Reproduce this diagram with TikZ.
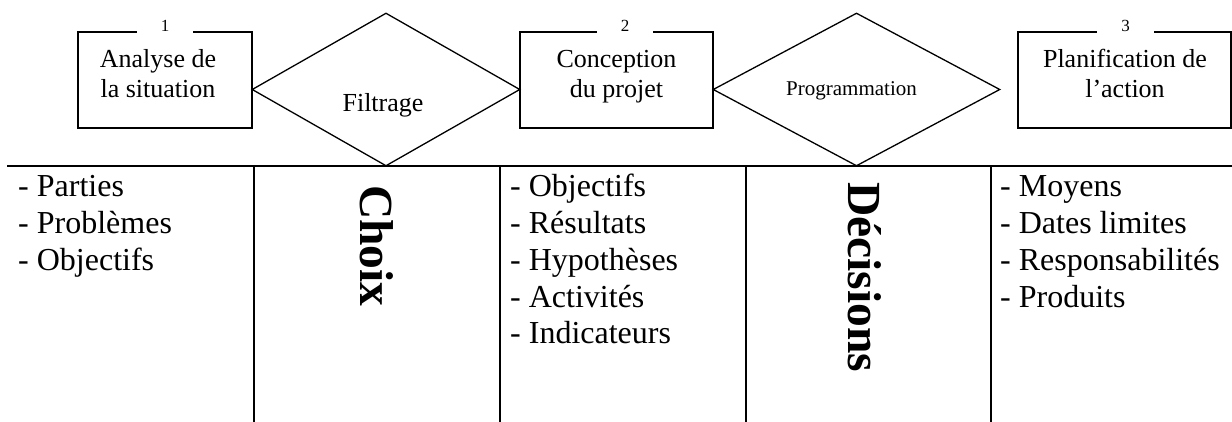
\documentclass[tikz,border=0pt]{standalone}
\usepackage{fontspec}
\setmainfont{Liberation Serif}
\usepackage{tikz}
\usetikzlibrary{shapes.geometric}

\begin{document}
\begin{tikzpicture}[x=1pt,y=-1pt]
\tikzstyle{every node}+=[inner sep=0pt]
\tikzstyle{stage}=[draw=black, line width=1.3pt, minimum height=96pt]
\tikzstyle{stagetext}=[align=center, anchor=base, font=\fontsize{26}{30}\selectfont]
\tikzstyle{tag}=[fill=white, anchor=base, inner xsep=24pt, inner ysep=1.5pt, font=\fontsize{17}{20}\selectfont]
\tikzstyle{gate}=[diamond, draw=black, line width=1.3pt, minimum height=153pt]
\tikzstyle{items}=[align=left, anchor=base west, font=\fontsize{32}{36.8}\selectfont]
\tikzstyle{verdict}=[rotate=-90, anchor=west, font=\fontsize{47.5}{54}\selectfont\bfseries]
\useasboundingbox (0,0) rectangle (1232,422);
% top row: stages and filters
\node[stage, minimum width=174pt] (analyse) at (165,80) {};
\node[stage, minimum width=193pt] (conception) at (616.5,80) {};
\node[stage, minimum width=213pt] (planif) at (1124.5,80) {};
\node[gate, minimum width=268pt] (filtrage) at (386,89.5) {};
\node[gate, minimum width=287pt] (program) at (856.5,89.5) {};
\node[tag] (num1) at (165,32) {1};
\node[tag] (num2) at (625,32) {2};
\node[tag] (num3) at (1125.5,32) {3};
\node[stagetext] (analyse-txt) at (158,97.5) {Analyse de\\la situation};
\node[stagetext] (conception-txt) at (616.5,97.5) {Conception\\du projet};
\node[stagetext] (planif-txt) at (1125,97.5) {Planification de\\l'action};
\node[anchor=base, font=\fontsize{26}{30}\selectfont] (filtrage-txt) at (383,112) {Filtrage};
\node[anchor=base, font=\fontsize{21}{24}\selectfont] (program-txt) at (851.5,96) {Programmation};
% table below
\draw[line width=2pt] (7,166.5) -- (1232,166.5);
\draw[line width=2pt] (254,166.5) -- (254,422);
\draw[line width=2pt] (500,166.5) -- (500,422);
\draw[line width=2pt] (746,166.5) -- (746,422);
\draw[line width=2pt] (991,166.5) -- (991,422);
\node[items] (col-analyse) at (18,270.4) {- Parties\\- Problèmes\\- Objectifs};
\node[verdict] (choix) at (377,185) {Choix};
\node[items] (col-conception) at (510,343.8) {- Objectifs\\- Résultats\\- Hypothèses\\- Activités\\- Indicateurs};
\node[verdict] (decisions) at (865,182) {Décisions};
\node[items] (col-planif) at (1000,307.1) {- Moyens\\- Dates limites\\- Responsabilités\\- Produits};
\end{tikzpicture}
\end{document}
